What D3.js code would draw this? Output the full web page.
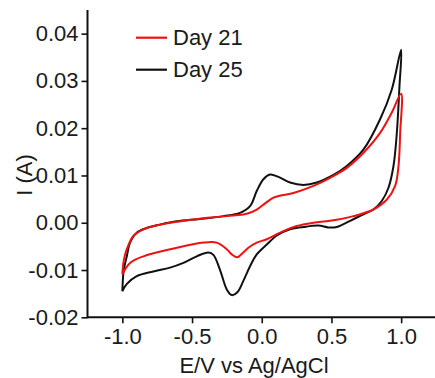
<!DOCTYPE html>
<html>
<head>
<meta charset="utf-8">
<script src="https://cdn.jsdelivr.net/npm/d3@7"></script>
<style>
  body { margin: 0; background: #fff; }
  svg text { font-family: "Liberation Sans", Arial, sans-serif; fill: #1a1a1a; }
</style>
</head>
<body>
<svg id="chart" width="435" height="378"></svg>
<script>
// Cyclic voltammograms: potential (V vs Ag/AgCl) and current (A), one closed sweep per day.
const seriesNames = ["Day 21", "Day 25"];
const seriesColors = ["#ee1111", "#111111"];

// Day 21: anodic sweep -1.0 -> 1.0 V, then cathodic sweep back to -1.0 V
const day21E = [-1.000, -0.990, -0.968, -0.921, -0.849, -0.730, -0.490, -0.251, -0.108, -0.036, 0.024, 0.084, 0.144, 0.227, 0.371, 0.490, 0.610, 0.730, 0.849, 0.933, 1.000,
  0.993, 0.981, 0.957, 0.897, 0.801, 0.658, 0.490, 0.371, 0.251, 0.132, 0.036, -0.036, -0.096, -0.144, -0.175, -0.215, -0.251, -0.323, -0.419, -0.610, -0.849, -0.945, -1.000];
const day21I = [-0.0109, -0.0080, -0.0056, -0.0028, -0.0014, -0.0004, 0.0007, 0.0014, 0.0019, 0.0028, 0.0041, 0.0053, 0.0058, 0.0063, 0.0078, 0.0095, 0.0116, 0.0148, 0.0190, 0.0233, 0.0273,
  0.0190, 0.0120, 0.0078, 0.0049, 0.0028, 0.0014, 0.0004, 0.0000, -0.0007, -0.0021, -0.0035, -0.0042, -0.0053, -0.0066, -0.0073, -0.0067, -0.0056, -0.0042, -0.0042, -0.0053, -0.0071, -0.0085, -0.0109];

// Day 25: same sweep
const day25E = [-1.000, -0.990, -0.968, -0.945, -0.897, -0.825, -0.730, -0.610, -0.443, -0.275, -0.156, -0.084, -0.036, 0.012, 0.060, 0.120, 0.203, 0.299, 0.395, 0.514, 0.610, 0.730, 0.849, 0.933, 1.000,
  0.988, 0.969, 0.945, 0.909, 0.861, 0.801, 0.730, 0.634, 0.538, 0.478, 0.407, 0.299, 0.203, 0.108, 0.036, -0.036, -0.084, -0.132, -0.175, -0.215, -0.251, -0.299, -0.347, -0.383, -0.466, -0.562, -0.658, -0.778, -0.897, -0.969, -1.000];
const day25I = [-0.0145, -0.0100, -0.0071, -0.0042, -0.0021, -0.0011, -0.0004, 0.0003, 0.0008, 0.0014, 0.0021, 0.0035, 0.0067, 0.0092, 0.0102, 0.0097, 0.0085, 0.0080, 0.0085, 0.0101, 0.0120, 0.0155, 0.0219, 0.0282, 0.0366,
  0.0289, 0.0190, 0.0120, 0.0074, 0.0046, 0.0028, 0.0018, 0.0004, -0.0009, -0.0010, -0.0006, -0.0009, -0.0014, -0.0027, -0.0046, -0.0067, -0.0092, -0.0123, -0.0147, -0.0153, -0.0141, -0.0100, -0.0068, -0.0063, -0.0071, -0.0085, -0.0095, -0.0103, -0.0113, -0.0130, -0.0145];

const xTicks = [-1.0, -0.5, 0.0, 0.5, 1.0];
const yTicks = [-0.02, -0.01, 0.00, 0.01, 0.02, 0.03, 0.04];
const xLabel = "E/V vs Ag/AgCl";
const yLabel = "I (A)";

const svg = d3.select("#chart");
const x = d3.scaleLinear().domain([-1.25, 1.25]).range([87.5, 436]);
const y = d3.scaleLinear().domain([-0.02, 0.045]).range([317.3, 10]);

// tick labels use a plain hyphen for negatives
const hyphen = f => v => f(v).replace("\u2212", "-");
const fx = hyphen(d3.format(".1f"));
const fy = hyphen(d3.format(".2f"));

// minor ticks
const xMinor = d3.range(-1.25, 1.2501, 0.25).filter(v => !xTicks.some(t => Math.abs(t - v) < 1e-6));
const yMinor = d3.range(-0.015, 0.0451, 0.01);

const gx = svg.append("g").attr("transform", `translate(0,${y(-0.02)})`);
gx.call(d3.axisBottom(x).tickValues(xMinor).tickSize(4).tickFormat(""));
gx.call(d3.axisBottom(x).tickValues(xTicks).tickSize(6).tickPadding(4).tickFormat(fx));
gx.selectAll(".domain").remove();
gx.append("line").attr("x1", x(-1.25)).attr("x2", x(1.25)).attr("stroke", "#111").attr("stroke-width", 2);

const gy = svg.append("g").attr("transform", `translate(${x(-1.25)},0)`);
gy.call(d3.axisLeft(y).tickValues(yMinor).tickSize(4).tickFormat(""));
gy.call(d3.axisLeft(y).tickValues(yTicks).tickSize(6).tickPadding(3).tickFormat(fy));
gy.selectAll(".domain").remove();
gy.append("line").attr("y1", y(-0.02) + 1).attr("y2", y(0.045)).attr("stroke", "#111").attr("stroke-width", 2);

svg.selectAll(".tick line").attr("stroke", "#111").attr("stroke-width", 1.6);
svg.selectAll(".tick text").attr("font-size", 22).attr("font-family", "Liberation Sans, Arial, sans-serif").attr("fill", "#1a1a1a");
gx.selectAll(".tick text").attr("dy", "0.75em");

svg.append("text").attr("x", 254).attr("y", 373).attr("text-anchor", "middle").attr("font-size", 22).text(xLabel);
svg.append("text").attr("transform", "translate(32,175) rotate(-90)").attr("text-anchor", "middle").attr("font-size", 22).text(yLabel);

const line = d3.line().x(d => x(d[0])).y(d => y(d[1])).curve(d3.curveCatmullRom.alpha(0.5));
const series = [d3.zip(day21E, day21I), d3.zip(day25E, day25I)];

// draw Day 25 first so Day 21 sits on top
[1, 0].forEach(i => {
  svg.append("path").datum(series[i]).attr("d", line)
    .attr("fill", "none").attr("stroke", seriesColors[i]).attr("stroke-width", 2)
    .attr("stroke-linejoin", "round");
});

// legend
const legend = svg.append("g");
seriesNames.forEach((name, i) => {
  const ly = 37.7 + i * 32;
  legend.append("line").attr("x1", 136).attr("x2", 167).attr("y1", ly).attr("y2", ly)
    .attr("stroke", seriesColors[i]).attr("stroke-width", 2.2);
  legend.append("text").attr("x", 173).attr("y", ly + 7).attr("font-size", 22).text(name);
});
</script>
</body>
</html>
